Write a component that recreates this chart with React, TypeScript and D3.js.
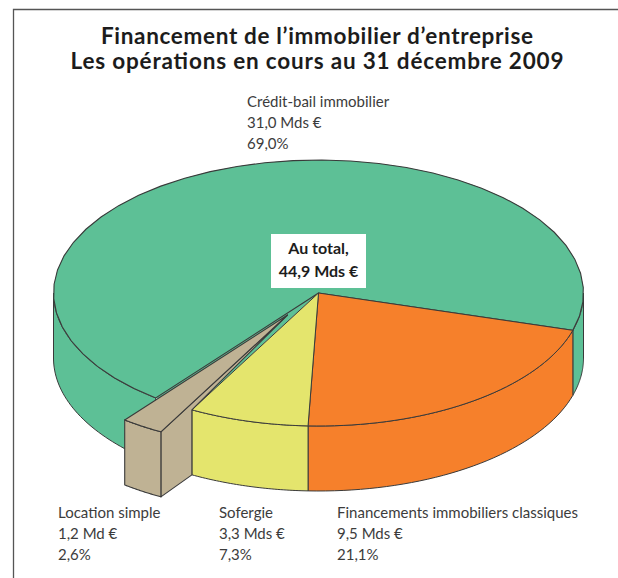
import React from "react";
import * as d3 from "d3";

const titleLines = ["Financement de l’immobilier d’entreprise", "Les opérations en cours au 31 décembre 2009"];
const names = ["Financements immobiliers classiques", "Sofergie", "Location simple", "Crédit-bail immobilier"];
const amounts = ["9,5 Mds €", "3,3 Mds €", "1,2 Md €", "31,0 Mds €"];
const percentLabels = ["21,1%", "7,3%", "2,6%", "69,0%"];
const percents = [21.1, 7.3, 2.6, 69.0];
const colors = ["#F6802B", "#E4E56D", "#BFB294", "#5DC096"];
const totalLines = ["Au total,", "44,9 Mds €"];

const W = 618, H = 578;
const cx = 318.5, cy = 293, rx = 265, ry = 133, depth = 65;
const ink = "#3a3a3a";
const labelPos: [number, number][] = [[337, 518], [219, 518], [58, 518], [247, 107]];

const startDeg = 106.3;
const pie = d3.pie<number>().sort(null).startAngle((startDeg * Math.PI) / 180).endAngle(((startDeg + 360) * Math.PI) / 180);
const arcs = pie(percents);
// d3 pie angle (clockwise from 12 o'clock) to point on the tilted ellipse
const pt = (a: number, dx = 0, dy = 0): [number, number] => [
  cx + dx + rx * Math.sin(a),
  cy + dy - ry * Math.cos(a),
];
const line = d3.line();
const sample = (a0: number, a1: number, dx = 0, dy = 0) =>
  d3.range(0, 41).map((i) => pt(a0 + ((a1 - a0) * i) / 40, dx, dy));
const topPath = (a0: number, a1: number, dx = 0, dy = 0) =>
  line([[cx + dx, cy + dy], ...sample(a0, a1, dx, dy)]) + "Z";
const wallPath = (a0: number, a1: number, dx = 0, dy = 0) =>
  line([...sample(a0, a1, dx, dy), ...sample(a1, a0, dx, dy + depth)]) + "Z";

const PI = Math.PI;
const [orange, yellow, beige, green] = arcs;
const ex = -31, ey = 22;

export default function App() {
  const bStart = pt(beige.startAngle, ex, ey);
  const apex: [number, number] = [cx + ex, cy + ey];
  const lab = { fontFamily: "Lato, 'Open Sans', sans-serif", fontSize: 15, fill: "#3c3c3c" } as const;
  return (
    <svg width={W} height={H} style={{ position: "absolute", left: 0, top: 0, background: "#fff" }}>
      <path d={`M618,9.5H13.5V578`} fill="none" stroke="#555" strokeWidth={1.3} />
      {titleLines.map((t, i) => (
        <text key={i} x={317} y={44 + i * 25} textAnchor="middle" fontFamily="Lato, sans-serif" fontWeight={700} fontSize={22.5} fill="#1c1c1c" textLength={i === 0 ? 432 : 493} lengthAdjust="spacing">{t}</text>
      ))}

      {/* green side walls */}
      <path d={wallPath(green.startAngle, PI * 1.5)} fill={colors[3]} stroke={ink} strokeWidth={1} />
      <path d={wallPath(PI * 0.5, orange.startAngle)} fill={colors[3]} stroke={ink} strokeWidth={1} />
      {/* green top: the wedge left by the pulled-out slice stays green */}
      <path d={topPath(yellow.endAngle, green.endAngle)} fill={colors[3]} stroke="none" />
      <path d={topPath(green.startAngle, green.endAngle)} fill={colors[3]} stroke={ink} strokeWidth={1.1} />
      {/* orange and yellow */}
      <path d={wallPath(orange.startAngle, orange.endAngle)} fill={colors[0]} stroke={ink} strokeWidth={1} />
      <path d={wallPath(yellow.startAngle, yellow.endAngle)} fill={colors[1]} stroke={ink} strokeWidth={1} />
      <path d={topPath(orange.startAngle, orange.endAngle)} fill={colors[0]} stroke={ink} strokeWidth={1} />
      <path d={topPath(yellow.startAngle, yellow.endAngle)} fill={colors[1]} stroke={ink} strokeWidth={1} />
      {/* exploded beige slice: inner side wall clipped by the yellow wall */}
      <path
        d={line([apex, bStart, [bStart[0], bStart[1] + depth], pt(yellow.endAngle, 0, depth), pt(yellow.endAngle), apex])! + "Z"}
        fill={colors[2]} stroke={ink} strokeWidth={1.1} strokeLinejoin="round"
      />
      <path d={wallPath(beige.startAngle, beige.endAngle, ex, ey)} fill={colors[2]} stroke={ink} strokeWidth={1.1} />
      <path d={topPath(beige.startAngle, beige.endAngle, ex, ey)} fill={colors[2]} stroke={ink} strokeWidth={1.1} strokeLinejoin="round" />

      <rect x={271} y={234} width={95} height={54} fill="#fff" />
      {totalLines.map((t, i) => (
        <text key={i} x={318.5} y={254 + i * 23} textAnchor="middle" fontFamily="Lato, sans-serif" fontWeight={700} fontSize={16} fill="#1c1c1c">{t}</text>
      ))}

      {names.map((n, i) => (
        <g key={n}>
          <text x={labelPos[i][0]} y={labelPos[i][1]} {...lab}>{n}</text>
          <text x={labelPos[i][0]} y={labelPos[i][1] + 21} {...lab}>{amounts[i]}</text>
          <text x={labelPos[i][0]} y={labelPos[i][1] + 42} {...lab}>{percentLabels[i]}</text>
        </g>
      ))}
    </svg>
  );
}
